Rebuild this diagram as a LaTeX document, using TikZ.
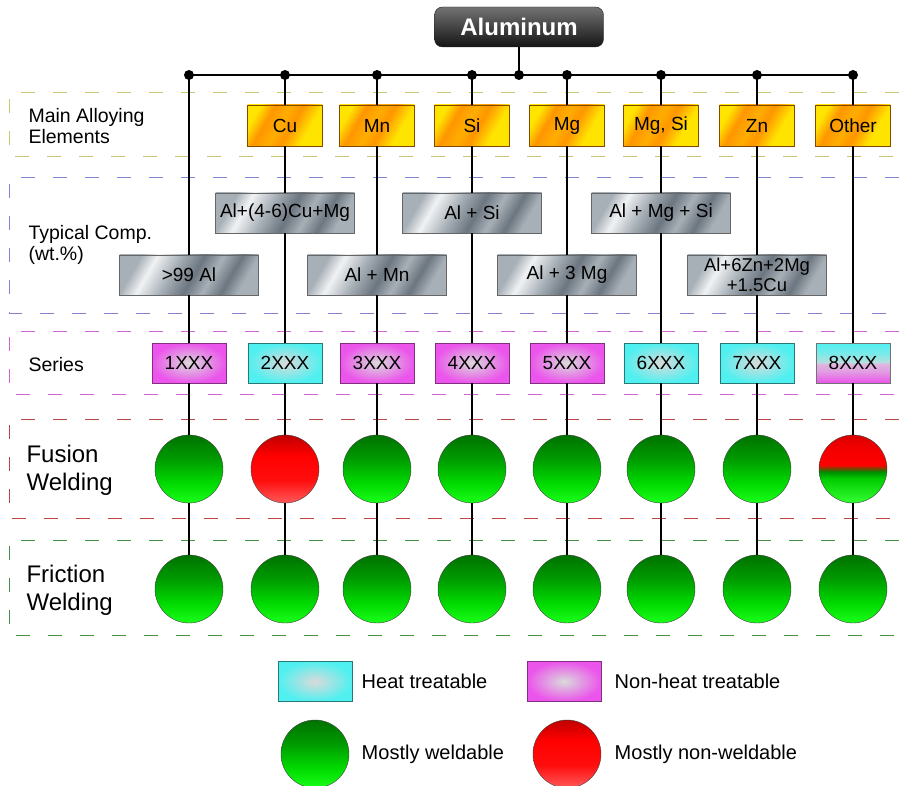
\documentclass[tikz,border=0pt]{standalone}
\usepackage{fontspec}
\setmainfont{Liberation Sans}
\usetikzlibrary{positioning}

% band and box colours
\definecolor{bandYel}{RGB}{200,200,115}
\definecolor{bandBlu}{RGB}{130,130,210}
\definecolor{bandMag}{RGB}{210,100,210}
\definecolor{bandRed}{RGB}{190,70,70}
\definecolor{bandGrn}{RGB}{70,145,70}
\definecolor{heatC}{RGB}{80,240,240}
\definecolor{nonheatM}{RGB}{235,85,235}
\definecolor{coreG}{RGB}{218,218,218}
\definecolor{goldY}{RGB}{255,228,0}
\definecolor{goldO}{RGB}{255,150,0}
\definecolor{metLt}{RGB}{240,242,244}
\definecolor{metMd}{RGB}{168,176,183}
\definecolor{metDk}{RGB}{108,118,128}

% shadings for the boxes and the weld circles
\pgfdeclarehorizontalshading{gold}{100bp}{color(0bp)=(goldY); color(25bp)=(goldY);
  color(35bp)=(goldO); color(46bp)=(goldO!70!goldY); color(55bp)=(goldO); color(68bp)=(goldY);
  color(100bp)=(goldY)}
\pgfdeclarehorizontalshading{metal}{100bp}{color(0bp)=(metMd); color(25bp)=(metMd);
  color(32bp)=(metLt); color(42bp)=(metMd); color(52bp)=(metDk); color(60bp)=(metMd);
  color(68bp)=(metDk); color(75bp)=(metMd); color(100bp)=(metMd)}
\pgfdeclareverticalshading{goodweld}{100bp}{color(0bp)=(green!90!white); color(25bp)=(green!90!white);
  color(40bp)=(green!85!black); color(58bp)=(green!60!black); color(75bp)=(green!45!black);
  color(100bp)=(green!45!black)}
\pgfdeclareverticalshading{badweld}{100bp}{color(0bp)=(red!65!white); color(25bp)=(red!65!white);
  color(42bp)=(red!95!white); color(60bp)=(red); color(75bp)=(red!75!black);
  color(100bp)=(red!75!black)}
\pgfdeclareverticalshading{halfweld}{100bp}{color(0bp)=(green!80!white); color(25bp)=(green!80!white);
  color(43bp)=(green!80!black); color(48bp)=(green!55!black); color(50bp)=(red!55!green!70!black);
  color(53bp)=(red); color(66bp)=(red!95!black); color(75bp)=(red!85!black);
  color(100bp)=(red!85!black)}
\pgfdeclareverticalshading{halfheat}{100bp}{color(0bp)=(nonheatM); color(25bp)=(nonheatM);
  color(40bp)=(nonheatM!45!coreG); color(49.5bp)=(nonheatM!25!coreG); color(50.5bp)=(heatC!25!coreG);
  color(62bp)=(heatC!70!coreG); color(75bp)=(heatC); color(100bp)=(heatC)}

\begin{document}
\begin{tikzpicture}[x=1pt,y=-1pt,
  wire/.style={line width=2.2pt},
  band/.style={line width=1pt,dash pattern=on 14pt off 18pt},
  rowlabel/.style={anchor=west,align=left,font=\fontsize{19.5}{20.5}\selectfont},
  biglabel/.style={anchor=west,align=left,font=\fontsize{24}{28}\selectfont},
  albox/.style={draw=black!85,rounded corners=8pt,top color=black!55,bottom color=black!92,
    text=white,font=\bfseries\fontsize{24}{28}\selectfont,minimum width=169pt,minimum height=40pt},
  elbox/.style={draw=goldO!50!black,shading=gold,shading angle=-30,
    font=\fontsize{19}{22}\selectfont,minimum width=75pt,minimum height=41pt,inner sep=0pt},
  compbox/.style={draw=black!60,shading=metal,shading angle=-30,align=center,
    font=\fontsize{19}{22}\selectfont,minimum width=139pt,minimum height=40pt,inner sep=0pt},
  serbox/.style={font=\fontsize{19}{22}\selectfont,minimum width=74pt,minimum height=40pt,inner sep=0pt},
  heat/.style={serbox,draw=heatC!50!black,inner color=coreG,outer color=heatC},
  nonheat/.style={serbox,draw=nonheatM!55!black,inner color=coreG,outer color=nonheatM},
  mixheat/.style={serbox,draw=black!55,shading=halfheat},
  weld/.style={circle,draw=black!75,shading=goodweld,minimum size=68pt,inner sep=0pt},
  noweld/.style={weld,shading=badweld},
  halfweld/.style={weld,shading=halfweld},
  legtext/.style={anchor=west,font=\fontsize{20}{22}\selectfont}]
\useasboundingbox (0,0) rectangle (899,786);

% dashed row bands
\draw[band,bandYel] (899,93) -- (9,93) -- (9,157) -- (899,157);
\draw[band,bandBlu] (899,178) -- (9,178) -- (9,313) -- (899,313);
\draw[band,bandMag] (899,331) -- (9,331) -- (9,394) -- (899,394);
\draw[band,bandRed] (899,419) -- (9,419) -- (9,518) -- (899,518);
\draw[band,bandGrn] (899,540) -- (9,540) -- (9,635) -- (899,635);

% row labels
\node[rowlabel] (lmain) at (25,126) {Main Alloying\\Elements};
\node[rowlabel] (lcomp) at (25,245) {Typical Comp.\\(wt.\%)};
\node[rowlabel] (lser) at (25,365) {Series};
\node[biglabel] (lfus) at (23,470) {Fusion\\Welding};
\node[biglabel] (lfri) at (23,590) {Friction\\Welding};

% trunk and branch points
\node[albox] (al) at (519,27) {Aluminum};
\coordinate (jal) at (519,75);
\foreach \n/\x in {1/189,2/285,3/377,4/472,5/567,6/661,7/757,8/853}
  \coordinate (j\n) at (\x,75);
\draw[wire] (j1) -- (j8);
\draw[wire] (al) -- (jal);

% main alloying elements
\node[elbox] (e2) at (285,125.5) {Cu};
\node[elbox] (e3) at (377,125.5) {Mn};
\node[elbox] (e4) at (472,125.5) {Si};
\node[elbox] (e5) at (567,125.5) {Mg};
\node[elbox] (e6) at (661,125.5) {Mg, Si};
\node[elbox] (e7) at (757,125.5) {Zn};
\node[elbox] (e8) at (853,125.5) {Other};

% typical compositions
\node[compbox] (c1) at (189,275) {>99 Al};
\node[compbox] (c2) at (285,213) {Al+(4-6)Cu+Mg};
\node[compbox] (c3) at (377,275) {Al + Mn};
\node[compbox] (c4) at (472,213) {Al + Si};
\node[compbox] (c5) at (567,275) {Al + 3 Mg};
\node[compbox] (c6) at (661,213) {Al + Mg + Si};
\node[compbox,font=\fontsize{18.5}{20}\selectfont] (c7) at (757,275) {Al+6Zn+2Mg\\+1.5Cu};

% series
\node[nonheat] (s1) at (189,363) {1XXX};
\node[heat] (s2) at (285,363) {2XXX};
\node[nonheat] (s3) at (377,363) {3XXX};
\node[nonheat] (s4) at (472,363) {4XXX};
\node[nonheat] (s5) at (567,363) {5XXX};
\node[heat] (s6) at (661,363) {6XXX};
\node[heat] (s7) at (757,363) {7XXX};
\node[mixheat] (s8) at (853,363) {8XXX};

% fusion welding
\node[weld] (f1) at (189,469) {};
\node[noweld] (f2) at (285,469) {};
\node[weld] (f3) at (377,469) {};
\node[weld] (f4) at (472,469) {};
\node[weld] (f5) at (567,469) {};
\node[weld] (f6) at (661,469) {};
\node[weld] (f7) at (757,469) {};
\node[halfweld] (f8) at (853,469) {};

% friction welding
\foreach \n/\x in {1/189,2/285,3/377,4/472,5/567,6/661,7/757,8/853}
  \node[weld] (w\n) at (\x,589) {};

% vertical links
\draw[wire] (j1) -- (c1) -- (s1) -- (f1) -- (w1);
\draw[wire] (j2) -- (e2) -- (c2) -- (s2) -- (f2) -- (w2);
\draw[wire] (j3) -- (e3) -- (c3) -- (s3) -- (f3) -- (w3);
\draw[wire] (j4) -- (e4) -- (c4) -- (s4) -- (f4) -- (w4);
\draw[wire] (j5) -- (e5) -- (c5) -- (s5) -- (f5) -- (w5);
\draw[wire] (j6) -- (e6) -- (c6) -- (s6) -- (f6) -- (w6);
\draw[wire] (j7) -- (e7) -- (c7) -- (s7) -- (f7) -- (w7);
\draw[wire] (j8) -- (e8) -- (s8) -- (f8) -- (w8);
\foreach \p in {j1,j2,j3,j4,jal,j5,j6,j7,j8}
  \fill (\p) circle (5pt);

% legend
\node[heat] (kheat) at (315,681.5) {};
\node[legtext,right=6pt of kheat] (theat) {Heat treatable};
\node[nonheat] (knon) at (564,681.5) {};
\node[legtext,right=10pt of knon] (tnon) {Non-heat treatable};
\node[weld] (kweld) at (315,754) {};
\node[legtext,right=9pt of kweld] (tweld) {Mostly weldable};
\node[noweld] (knoweld) at (567,754) {};
\node[legtext,right=10pt of knoweld] (tnoweld) {Mostly non-weldable};
\end{tikzpicture}
\end{document}
